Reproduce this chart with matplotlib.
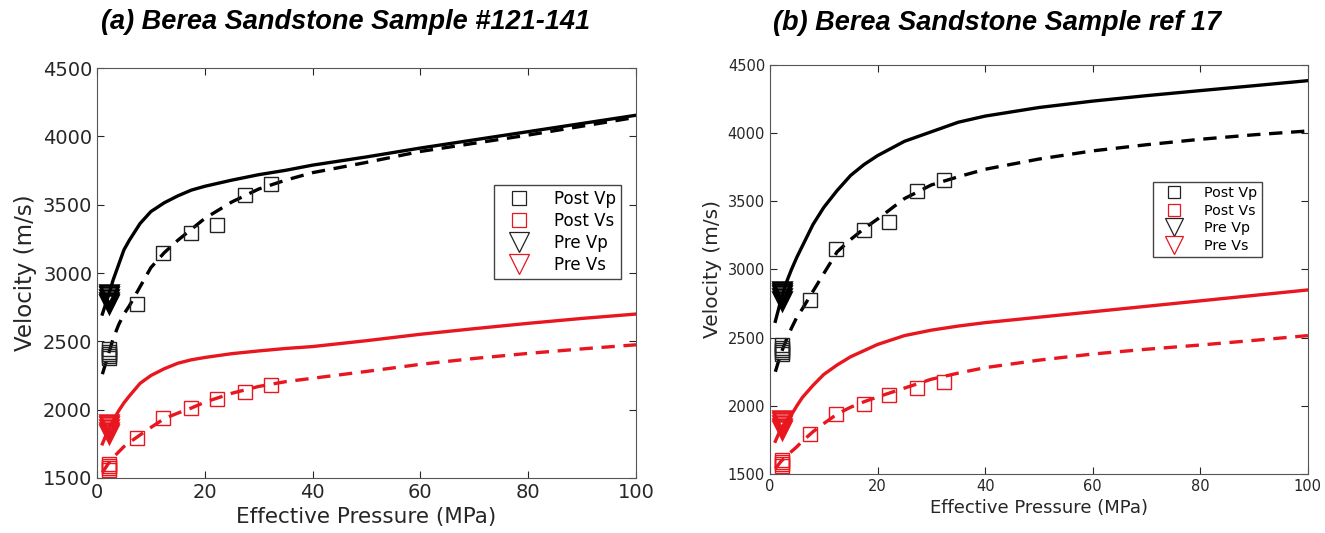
import matplotlib
matplotlib.use('Agg')
import matplotlib.pyplot as plt
from matplotlib.lines import Line2D

RED = '#e8161e'

# measured points, same for both samples
p_post_vp = [2.3, 2.3, 2.3, 2.3, 2.3, 7.5, 12.3, 17.4, 22.2, 27.4, 32.3]
post_vp = [2380, 2395, 2410, 2425, 2445, 2775, 3150, 3290, 3350, 3572, 3655]
p_post_vs = [2.3, 2.3, 2.3, 2.3, 7.5, 12.3, 17.4, 22.2, 27.4, 32.3]
post_vs = [1555, 1570, 1585, 1600, 1795, 1940, 2012, 2076, 2128, 2178]
p_pre = [2.3, 2.3, 2.3, 2.3, 2.3]
pre_vp = [2770, 2790, 2810, 2830, 2845]
pre_vs = [1820, 1840, 1860, 1880, 1895]

# model curves
p_model = [1, 2, 3, 4, 5, 6, 8, 10, 12.5, 15, 17.5, 20, 25, 30, 35, 40, 50, 60, 70, 80, 90, 100]

a_vp_pre = [2700, 2820, 2950, 3060, 3170, 3240, 3363, 3450, 3515, 3565, 3607, 3635, 3680, 3720,
            3752, 3790, 3850, 3915, 3975, 4035, 4095, 4155]
a_vp_post = [2260, 2390, 2520, 2620, 2700, 2760, 2900, 3040, 3150, 3240, 3320, 3400, 3520, 3615,
             3680, 3735, 3810, 3890, 3950, 4010, 4075, 4140]
a_vs_pre = [1750, 1845, 1920, 1990, 2050, 2100, 2193, 2250, 2300, 2340, 2365, 2382, 2410, 2430,
            2448, 2462, 2505, 2552, 2593, 2632, 2668, 2700]
a_vs_post = [1540, 1600, 1650, 1690, 1730, 1760, 1815, 1870, 1935, 1975, 2012, 2055, 2120, 2170,
             2205, 2230, 2280, 2332, 2375, 2412, 2445, 2475]

b_vp_pre = [2620, 2770, 2900, 3000, 3090, 3170, 3330, 3455, 3580, 3690, 3770, 3835, 3940, 4010,
            4080, 4125, 4188, 4235, 4275, 4312, 4348, 4385]
b_vp_post = [2250, 2380, 2480, 2570, 2650, 2710, 2840, 2970, 3130, 3220, 3300, 3370, 3520, 3620,
             3680, 3735, 3810, 3870, 3915, 3955, 3988, 4016]
b_vs_pre = [1740, 1830, 1890, 1935, 2000, 2060, 2150, 2230, 2300, 2360, 2405, 2450, 2515, 2555,
            2585, 2610, 2650, 2690, 2730, 2770, 2810, 2850]
b_vs_post = [1540, 1590, 1630, 1665, 1700, 1740, 1810, 1870, 1940, 1990, 2030, 2065, 2130, 2195,
             2240, 2280, 2335, 2380, 2415, 2446, 2480, 2515]


def panel(ax, title, vp_pre, vp_post, vs_pre, vs_post, fs, xlfs, ylfs, lfs, leg_anchor, lms,
          title_x, title_pad):
    ax.plot(p_model, vp_pre, color='black', lw=2.4)
    ax.plot(p_model, vp_post, color='black', lw=2.4, dashes=(4, 2.6))
    ax.plot(p_model, vs_pre, color=RED, lw=2.4)
    ax.plot(p_model, vs_post, color=RED, lw=2.4, dashes=(4, 2.6))

    ax.plot(p_post_vp, post_vp, 's', ms=10, mfc='none', mec='#222222', mew=1.0, clip_on=False)
    ax.plot(p_post_vs, post_vs, 's', ms=10, mfc='none', mec=RED, mew=1.0, clip_on=False)
    ax.plot(p_pre, pre_vp, 'v', ms=13, mfc='none', mec='black', mew=1.8)
    ax.plot(p_pre, pre_vs, 'v', ms=13, mfc='none', mec=RED, mew=1.8)

    ax.set_xlim(0, 100)
    ax.set_ylim(1500, 4500)
    ax.set_xticks([0, 20, 40, 60, 80, 100])
    ax.set_yticks(range(1500, 4501, 500))
    ax.tick_params(direction='in', top=True, right=True, length=5, labelsize=fs, colors='#262626')
    for s in ax.spines.values():
        s.set_color('#555555')
    ax.set_xlabel('Effective Pressure (MPa)', fontsize=xlfs, color='#262626')
    ax.set_ylabel('Velocity (m/s)', fontsize=ylfs, color='#262626')
    ax.set_title(title, fontsize=19.5, fontweight='bold', style='italic', family='Liberation Sans',
                 pad=title_pad, x=title_x)

    handles = [
        Line2D([], [], ls='none', marker='s', ms=lms, mfc='none', mec='#222222', mew=0.9),
        Line2D([], [], ls='none', marker='s', ms=lms, mfc='none', mec=RED, mew=0.9),
        Line2D([], [], ls='none', marker='v', ms=lms + 4, mfc='none', mec='#222222', mew=0.9),
        Line2D([], [], ls='none', marker='v', ms=lms + 4, mfc='none', mec=RED, mew=0.9),
    ]
    leg = ax.legend(handles, ['Post Vp', 'Post Vs', 'Pre Vp', 'Pre Vs'],
                    loc='center right', bbox_to_anchor=leg_anchor, fontsize=lfs, fancybox=False,
                    framealpha=1, edgecolor='#444444', borderpad=0.3, handletextpad=0.9,
                    labelspacing=0.25, handlelength=2.4, borderaxespad=0)
    leg.get_frame().set_linewidth(1.0)


fig = plt.figure(figsize=(13.25, 5.33), dpi=100)
ax1 = fig.add_axes([0.0732, 0.1032, 0.4068, 0.769])
ax2 = fig.add_axes([0.5811, 0.1107, 0.406, 0.7674])

panel(ax1, '(a) Berea Sandstone Sample #121-141', a_vp_pre, a_vp_post, a_vs_pre, a_vs_post,
      14, 15.5, 16.5, 12, (0.972, 0.60), 10, 0.462, 28)
panel(ax2, '(b) Berea Sandstone Sample ref 17', b_vp_pre, b_vp_post, b_vs_pre, b_vs_post,
      10.5, 13, 14.5, 10.3, (0.914, 0.622), 9, 0.422, 25)

plt.savefig('out.png', dpi=100)
